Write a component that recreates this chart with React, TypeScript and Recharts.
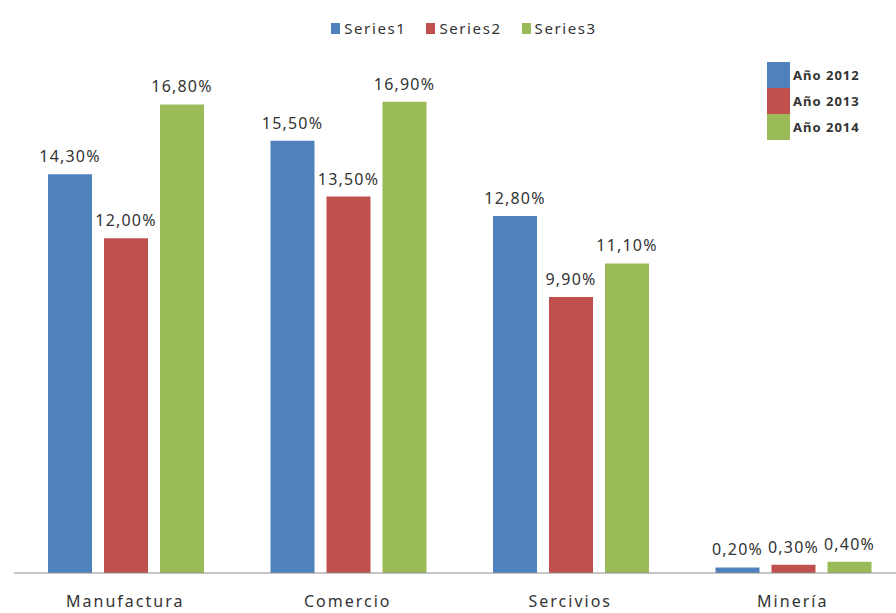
import { BarChart, Bar, XAxis, YAxis, Legend, LabelList } from "recharts";

const categories = ["Manufactura", "Comercio", "Sercivios", "Minería"];
const series1 = [14.3, 15.5, 12.8, 0.2];
const series2 = [12.0, 13.5, 9.9, 0.3];
const series3 = [16.8, 16.9, 11.1, 0.4];
const seriesNames = ["Series1", "Series2", "Series3"];
const yearLabels = ["Año 2012", "Año 2013", "Año 2014"];

const COLORS = ["#4F81BD", "#C0504D", "#9BBB59"];
const FONT = "'Noto Sans', sans-serif";

const rows = categories.map((name, i) => ({
  name,
  s1: series1[i],
  s2: series2[i],
  s3: series3[i],
}));

const fmt = (v: any) => Number(v).toFixed(2).replace(".", ",") + "%";

function TopLegend() {
  return (
    <div
      style={{
        display: "flex",
        justifyContent: "center",
        paddingLeft: 10,
        paddingTop: 4,
        fontFamily: FONT,
        fontSize: 15,
        letterSpacing: 1.6,
        color: "#333",
      }}
    >
      {seriesNames.map((s, i) => (
        <div
          key={s}
          style={{ display: "flex", alignItems: "center", margin: "0 10px" }}
        >
          <span
            style={{
              width: 9,
              height: 11,
              background: COLORS[i],
              display: "inline-block",
              marginRight: 4,
            }}
          />
          {s}
        </div>
      ))}
    </div>
  );
}

export default function App() {
  return (
    <div
      style={{
        position: "absolute",
        left: 0,
        top: 0,
        width: 896,
        height: 613,
        overflow: "hidden",
        background: "#fff",
      }}
    >
      <BarChart
        width={904}
        height={613}
        data={rows}
        margin={{ top: 14, right: 0, bottom: 0, left: 14 }}
        barCategoryGap={34}
        barGap={12}
      >
        <XAxis
          dataKey="name"
          height={40}
          tickLine={false}
          tickSize={0}
          tickMargin={23}
          stroke="#8c8c8c"
          tick={{
            fill: "#333",
            fontSize: 16,
            fontFamily: FONT,
            letterSpacing: 2,
          }}
        />
        <YAxis hide domain={[0, 18]} />
        <Legend
          verticalAlign="top"
          content={<TopLegend />}
          wrapperStyle={{ height: 57 }}
        />
        {["s1", "s2", "s3"].map((k, i) => (
          <Bar
            key={k}
            dataKey={k}
            name={seriesNames[i]}
            fill={COLORS[i]}
            isAnimationActive={false}
          >
            <LabelList
              dataKey={k}
              position="top"
              offset={12}
              formatter={fmt}
              style={{
                fill: "#333",
                fontSize: 16,
                fontFamily: FONT,
                letterSpacing: 1.2,
              }}
            />
          </Bar>
        ))}
        <g>
          {yearLabels.map((t, i) => (
            <g key={t}>
              <rect
                x={767}
                y={62 + i * 26}
                width={23}
                height={26}
                fill={COLORS[i]}
              />
              <text
                x={793}
                y={62 + i * 26 + 18}
                fontSize={13}
                fontWeight="bold"
                fontFamily={FONT}
                letterSpacing={1}
                fill="#333"
              >
                {t}
              </text>
            </g>
          ))}
        </g>
      </BarChart>
    </div>
  );
}
